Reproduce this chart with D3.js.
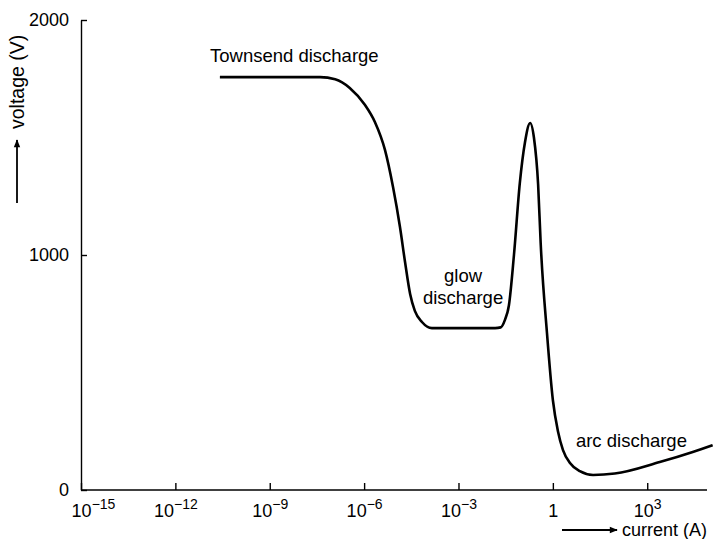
<!DOCTYPE html>
<html>
<head>
<meta charset="utf-8">
<script src="https://cdn.jsdelivr.net/npm/d3@7"></script>
<style>
  html, body { margin: 0; padding: 0; background: #fff; }
  svg { display: block; font-family: "Liberation Sans", Arial, Helvetica, sans-serif; }
</style>
</head>
<body>
<svg id="chart" width="714" height="539"></svg>
<script>
// Current (A) through a gas discharge and the voltage (V) across it
const current = [
  2.6e-11, 4.0e-8, 1.2e-7, 3.5e-7, 1.07e-6, 2.2e-6, 4.6e-6, 8.3e-6, 1.38e-5, 2.0e-5,
  2.9e-5, 4.1e-5, 6.9e-5, 1.44e-4,
  1.45e-2, 2.2e-2, 3.0e-2, 4.0e-2, 5.8e-2, 8.9e-2, 0.13, 0.19, 0.25, 0.34, 0.41, 0.65,
  1.0, 1.45, 2.1, 3.5, 7.2, 19, 93, 2500, 28000, 120000
];
const voltage = [
  1757, 1757, 1748, 1711, 1638, 1566, 1447, 1289, 1119, 970,
  834, 762, 715, 689,
  689, 692, 724, 785, 1000, 1306, 1480, 1562, 1500, 1300, 1050, 668,
  383, 250, 170, 115, 80, 64, 70, 119, 162, 191
];

// Axis ticks
const xTickExponents = [-15, -12, -9, -6, -3, 0, 3];
const yTicks = [0, 1000, 2000];

// Region labels
const regionLabels = [
  { lines: ["Townsend discharge"], current: 1.26e-11, voltage: 1821, anchor: "start" },
  { lines: ["glow", "discharge"], current: 1.4e-3, voltage: 885, anchor: "middle" },
  { lines: ["arc discharge"], current: 5.4, voltage: 182, anchor: "start" }
];

const svg = d3.select("#chart");

const x = d3.scaleLog().domain([1e-15, Math.pow(10, 4.9)]).range([81, 707]);
const y = d3.scaleLinear().domain([0, 2000]).range([490, 20]);

// arrow marker
svg.append("defs").append("marker")
  .attr("id", "arrow")
  .attr("viewBox", "0 0 10 10")
  .attr("refX", 9).attr("refY", 5)
  .attr("markerWidth", 10).attr("markerHeight", 8)
  .attr("markerUnits", "userSpaceOnUse")
  .attr("orient", "auto")
  .append("path").attr("d", "M0,1 L10,5 L0,9 Z").attr("fill", "#000");

// x axis
const xAxis = d3.axisBottom(x)
  .tickValues(xTickExponents.map(e => Math.pow(10, e)))
  .tickSize(-7).tickSizeOuter(0).tickFormat("");
const gx = svg.append("g").attr("transform", `translate(0,${y(0)})`).call(xAxis);
gx.select(".domain").attr("d", `M${x.range()[0]},0H${x.range()[1]}`);
gx.selectAll("path, line").attr("stroke", "#000").attr("stroke-width", 1.4);

gx.selectAll(".tick").each(function(d, i) {
  const e = xTickExponents[i];
  const t = d3.select(this).append("text")
    .attr("y", 27)
    .attr("fill", "#000")
    .attr("font-size", 18)
    .attr("text-anchor", "middle")
    .attr("dx", i === 0 ? 12 : 0);
  if (e === 0) {
    t.text("1");
  } else {
    t.append("tspan").text("10");
    t.append("tspan").attr("dy", -8).attr("font-size", 14)
      .text(e < 0 ? "\u2212" + Math.abs(e) : String(e));
  }
});

// y axis
const yAxis = d3.axisLeft(y).tickValues(yTicks).tickFormat(d3.format("d"))
  .tickSize(-6).tickSizeOuter(0).tickPadding(12);
const gy = svg.append("g").attr("transform", `translate(${x.range()[0]},0)`).call(yAxis);
gy.selectAll("path, line").attr("stroke", "#000").attr("stroke-width", 1.4);
gy.selectAll("text").attr("font-size", 18).attr("fill", "#000").attr("font-family", null);
gx.selectAll("text").attr("font-family", null);

// characteristic curve
const pts = current.map((c, i) => [c, voltage[i]]);
svg.append("path")
  .datum(pts)
  .attr("fill", "none")
  .attr("stroke", "#000")
  .attr("stroke-width", 2.6)
  .attr("stroke-linejoin", "round")
  .attr("d", d3.line().x(d => x(d[0])).y(d => y(d[1])).curve(d3.curveMonotoneX));

// region labels
regionLabels.forEach(lab => {
  const t = svg.append("text")
    .attr("x", x(lab.current))
    .attr("y", y(lab.voltage))
    .attr("text-anchor", lab.anchor)
    .attr("font-size", 18.5)
    .attr("fill", "#000");
  lab.lines.forEach((ln, k) => {
    t.append("tspan").attr("x", x(lab.current)).attr("dy", k === 0 ? 0 : 22).text(ln);
  });
});

// axis titles with arrows
svg.append("line")
  .attr("x1", 562).attr("y1", 530).attr("x2", 617).attr("y2", 530)
  .attr("stroke", "#000").attr("stroke-width", 1.8).attr("marker-end", "url(#arrow)");
svg.append("text")
  .attr("x", 622).attr("y", 536)
  .attr("font-size", 18).attr("fill", "#000")
  .text("current (A)");

svg.append("line")
  .attr("x1", 17).attr("y1", 203).attr("x2", 17).attr("y2", 140)
  .attr("stroke", "#000").attr("stroke-width", 1.8).attr("marker-end", "url(#arrow)");
svg.append("text")
  .attr("transform", "translate(24,129) rotate(-90)")
  .attr("font-size", 19.5).attr("fill", "#000")
  .text("voltage (V)");
</script>
</body>
</html>
